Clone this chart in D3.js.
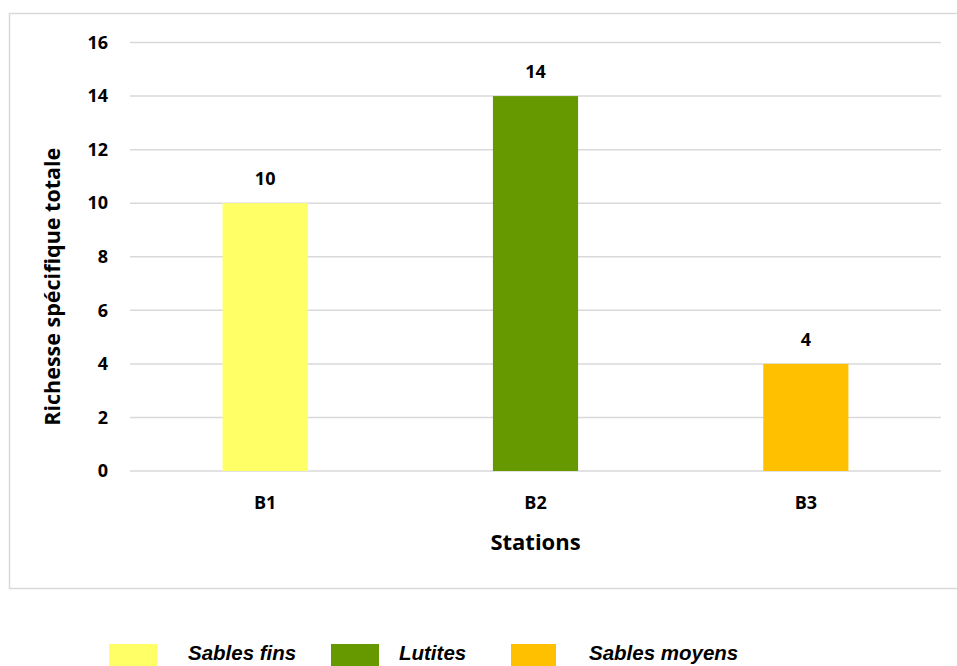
<!DOCTYPE html>
<html>
<head>
<meta charset="utf-8">
<script src="https://cdn.jsdelivr.net/npm/d3@7"></script>
<style>
  body { margin: 0; background: #fff; }
  svg text { font-family: "Open Sans", "DejaVu Sans", sans-serif; font-weight: bold; fill: #000; }
  .legend text { font-family: "Liberation Sans", Arial, sans-serif; font-style: italic; }
</style>
</head>
<body>
<div id="chart"></div>
<script>
const stations = ["B1", "B2", "B3"];
const richesse = [10, 14, 4];
const sediments = ["Sables fins", "Lutites", "Sables moyens"];
const colors = ["#FFFF66", "#669900", "#FFC000"];
const yTicks = [0, 2, 4, 6, 8, 10, 12, 14, 16];

const width = 957;
const height = 666;
const margin = { top: 42.5, right: 16, bottom: 195, left: 130 };

const svg = d3.select("#chart").append("svg")
  .attr("width", width)
  .attr("height", height);

// chart frame
svg.append("rect")
  .attr("x", 9.5).attr("y", 13.5)
  .attr("width", 960).attr("height", 575)
  .attr("fill", "none")
  .attr("stroke", "#d9d9d9")
  .attr("stroke-width", 1.5);

const x = d3.scaleBand()
  .domain(stations)
  .range([margin.left, width - margin.right])
  .paddingInner(0.685)
  .paddingOuter(0.3425);

const y = d3.scaleLinear()
  .domain([0, 16])
  .range([height - margin.bottom, margin.top]);

// gridlines
svg.append("g")
  .selectAll("line")
  .data(yTicks)
  .join("line")
    .attr("x1", margin.left)
    .attr("x2", width - margin.right)
    .attr("y1", d => y(d))
    .attr("y2", d => y(d))
    .attr("stroke", "#d9d9d9")
    .attr("stroke-width", 1.5);

// y axis labels
const yAxis = g => g
  .attr("transform", `translate(${margin.left},0)`)
  .call(d3.axisLeft(y).tickValues(yTicks).tickSize(0).tickPadding(22))
  .call(g => g.select(".domain").remove())
  .call(g => g.selectAll("text")
    .attr("font-size", 18)
    .style("font-family", "'Open Sans', sans-serif")
    .style("font-weight", "bold"));

svg.append("g").call(yAxis);

// x axis labels
const xAxis = g => g
  .attr("transform", `translate(0,${y(0)})`)
  .call(d3.axisBottom(x).tickSize(0).tickPadding(25))
  .call(g => g.select(".domain").remove())
  .call(g => g.selectAll("text")
    .attr("font-size", 18)
    .style("font-family", "'Open Sans', sans-serif")
    .style("font-weight", "bold"));

svg.append("g").call(xAxis);

// bars
svg.append("g")
  .selectAll("rect")
  .data(stations)
  .join("rect")
    .attr("x", d => x(d))
    .attr("y", (d, i) => y(richesse[i]))
    .attr("width", x.bandwidth())
    .attr("height", (d, i) => y(0) - y(richesse[i]))
    .attr("fill", (d, i) => colors[i]);

// value labels
svg.append("g")
  .selectAll("text")
  .data(stations)
  .join("text")
    .attr("x", d => x(d) + x.bandwidth() / 2)
    .attr("y", (d, i) => y(richesse[i]) - 18)
    .attr("text-anchor", "middle")
    .attr("font-size", 18)
    .text((d, i) => richesse[i]);

// axis titles
svg.append("text")
  .attr("x", (margin.left + width - margin.right) / 2)
  .attr("y", 550)
  .attr("text-anchor", "middle")
  .attr("font-size", 22)
  .text("Stations");

svg.append("text")
  .attr("transform", `translate(60,${(y(0) + y(16)) / 2 + 30}) rotate(-90)`)
  .attr("text-anchor", "middle")
  .attr("font-size", 21.5)
  .text("Richesse spécifique totale");

// legend
const legendX = [109, 331, 511];
const legend = svg.append("g").attr("class", "legend");
legend.selectAll("rect")
  .data(sediments)
  .join("rect")
    .attr("x", (d, i) => legendX[i])
    .attr("y", 644)
    .attr("width", (d, i) => i === 2 ? 45 : 48)
    .attr("height", 22)
    .attr("fill", (d, i) => colors[i]);

legend.selectAll("text")
  .data(sediments)
  .join("text")
    .attr("x", (d, i) => legendX[i] + [79, 68, 78][i])
    .attr("y", 660)
    .attr("font-size", 20.5)
    .text(d => d);
</script>
</body>
</html>
